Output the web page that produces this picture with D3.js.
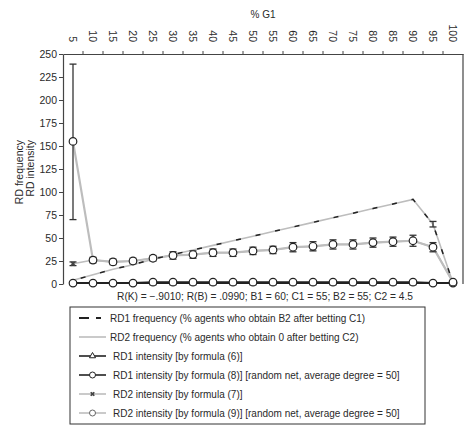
<!DOCTYPE html>
<html><head><meta charset="utf-8">
<script src="https://cdn.jsdelivr.net/npm/d3@7"></script>
<style>
body{margin:0;background:#fff;}
text{font-family:"Liberation Sans",Arial,sans-serif;fill:#2a2a2a;}
</style></head>
<body><svg id="c" width="467" height="429"></svg>
<script>
// ---- data ----
const g1 = [5,10,15,20,25,30,35,40,45,50,55,60,65,70,75,80,85,90,95,100];
const xTickLabels = ["5","10","15","20","25","30","35","40","45","50","55","60","65","70","75","80","85","90","95","100"];
const yTicks = [0,25,50,75,100,125,150,175,200,225,250];
const rd1Freq = [4,10,16,21,27,32,37,42,47,52,57,62,67,72,77,82,87,92,65,1];
const rd2Freq = [4,10,16,21,27,32,37,42,47,52,57,62,67,72,77,82,87,92,65,1];
const rd2FreqLo = [4,10,16,21,27,32,37,42,47,52,57,62,67,72,77,82,87,92,62,1];
const rd2FreqHi = [4,10,16,21,27,32,37,42,47,52,57,62,67,72,77,82,87,92,68,1];
const rd1Int6 = [1,1,1,1,1,1,1,1,1,1,1,1,1,1,1,1,1,1,1,1];
const rd1Int8 = [1,1,1,1,2,2,2,2,2,2,2,2,2,2,2,2,2,2,1,1];
const rd2Int7 = [22,26,24,25,28,31,32,34,34,36,37,40,41,43,43,45,46,47,40,2];
const rd2Int7Lo = [20,26,24,25,28,31,32,34,34,36,37,40,41,43,43,45,46,47,40,2];
const rd2Int7Hi = [24,26,24,25,28,31,32,34,34,36,37,40,41,43,43,45,46,47,40,2];
const rd2Int9 = [155,26,24,25,28,31,32,34,34,36,37,40,41,43,43,45,46,47,40,2];
const rd2Int9Lo = [70,23,21,22,25,27,28,30,30,32,33,35,36,38,38,40,41,41,35,1];
const rd2Int9Hi = [239,29,27,28,31,35,36,38,38,40,41,45,46,48,48,50,51,53,45,3];
const legendLabels = [
  "RD1 frequency (% agents who obtain B2 after betting C1)",
  "RD2 frequency (% agents who obtain 0 after betting C2)",
  "RD1 intensity [by formula (6)]",
  "RD1 intensity [by formula (8)] [random net, average degree = 50]",
  "RD2 intensity [by formula (7)]",
  "RD2 intensity [by formula (9)] [random net, average degree = 50]"
];
const xTitle = "% G1";
const yTitle = ["RD frequency","RD intensity"];
const subtitle = "R(K) = \u2212.9010; R(B) = .0990; B1 = 60; C1 = 55; B2 = 55; C2 = 4.5";

// ---- chart ----
const svg = d3.select("#c");
const L=63, R=463, T=54, B=284;
const GRAY="#bdbdbd", DARK="#222";
const xb = d3.scaleBand().domain(g1).range([L,R]).padding(0);
const x = d => xb(d) + xb.bandwidth()/2;
const y = d3.scaleLinear().domain([0,250]).range([B,T]);

// top axis
const ax = svg.append("g").attr("transform",`translate(0,${T})`)
  .call(d3.axisTop(xb).tickSize(0).tickSizeOuter(0).tickFormat((d,i)=>xTickLabels[i]));
ax.select(".domain").attr("stroke","#444").attr("stroke-width",1.2);
ax.selectAll(".tick text").attr("font-size",10.5).attr("text-anchor","end")
  .attr("transform","translate(0,-12) rotate(90)").attr("x",0).attr("y",0).attr("dy","0.35em");
svg.append("g").selectAll("line").data(g1.slice(1)).join("line")
  .attr("x1",d=>xb(d)).attr("x2",d=>xb(d)).attr("y1",T).attr("y2",T-3)
  .attr("stroke","#444");
// right border
svg.append("line").attr("x1",R).attr("x2",R).attr("y1",T).attr("y2",B)
  .attr("stroke","#444").attr("stroke-width",1.2);
// left axis
const ay = svg.append("g").attr("transform",`translate(${L},0)`)
  .call(d3.axisLeft(y).tickValues(yTicks).tickSize(4).tickSizeOuter(0));
ay.select(".domain").attr("stroke","#444").attr("stroke-width",1.2);
ay.selectAll(".tick line").attr("stroke","#444");
ay.selectAll(".tick text").attr("font-size",10.5).attr("x",-6);

svg.append("text").attr("x",263).attr("y",18).attr("text-anchor","middle")
  .attr("font-size",10).text(xTitle);
yTitle.forEach((t,i)=>svg.append("text")
  .attr("transform",`translate(${23+i*11},140) rotate(-90)`)
  .attr("text-anchor","end").attr("font-size",10.5).text(t));
svg.append("text").attr("x",265).attr("y",300).attr("text-anchor","middle")
  .attr("font-size",10.2).text(subtitle);

const line = arr => d3.line().x((d,i)=>x(g1[i])).y(d=>y(d))(arr);
const plot = svg.append("g");
// gray lines
plot.append("path").attr("d",line(rd2Freq)).attr("fill","none").attr("stroke",GRAY).attr("stroke-width",1.6);
plot.append("path").attr("d",line(rd2Int7)).attr("fill","none").attr("stroke",GRAY).attr("stroke-width",1.6);
plot.append("path").attr("d",line(rd2Int9)).attr("fill","none").attr("stroke",GRAY).attr("stroke-width",2.2);
// black dashed
plot.append("path").attr("d",line(rd1Freq)).attr("fill","none").attr("stroke",DARK)
  .attr("stroke-width",1.5).attr("stroke-dasharray","5,15").attr("stroke-dashoffset",-8);
// bottom black lines
plot.append("path").attr("d",line(rd1Int6)).attr("fill","none").attr("stroke",DARK).attr("stroke-width",1.6);
plot.append("path").attr("d",line(rd1Int8)).attr("fill","none").attr("stroke",DARK).attr("stroke-width",2);

// error bars
function ebars(lo,hi,col){
  const idx = g1.map((d,i)=>i).filter(i=>hi[i]!==lo[i]);
  const g = plot.append("g").attr("stroke",col).attr("stroke-width",1.3);
  g.selectAll(".v").data(idx).join("line").attr("x1",i=>x(g1[i])).attr("x2",i=>x(g1[i]))
    .attr("y1",i=>y(lo[i])).attr("y2",i=>y(hi[i]));
  g.selectAll(".a").data(idx).join("line").attr("x1",i=>x(g1[i])-3.5).attr("x2",i=>x(g1[i])+3.5)
    .attr("y1",i=>y(lo[i])).attr("y2",i=>y(lo[i]));
  g.selectAll(".b").data(idx).join("line").attr("x1",i=>x(g1[i])-3.5).attr("x2",i=>x(g1[i])+3.5)
    .attr("y1",i=>y(hi[i])).attr("y2",i=>y(hi[i]));
}
ebars(rd2Int9Lo,rd2Int9Hi,"#333");
ebars(rd2Int7Lo,rd2Int7Hi,"#333");
ebars(rd2FreqLo,rd2FreqHi,"#333");

// markers
const sym = d3.symbol();
plot.append("g").selectAll("path").data(rd1Int6).join("path")
  .attr("transform",(d,i)=>`translate(${x(g1[i])},${y(d)})`)
  .attr("d",sym.type(d3.symbolTriangle).size(20)()).attr("fill","#fff").attr("stroke",DARK);
plot.append("g").selectAll("path").data(rd2Int7).join("path")
  .attr("transform",(d,i)=>`translate(${x(g1[i])},${y(d)}) rotate(45)`)
  .attr("d",d3.symbol().type(d3.symbolCross).size(14)()).attr("fill","#444");
plot.append("g").selectAll("circle").data(rd1Int8).join("circle")
  .attr("cx",(d,i)=>x(g1[i])).attr("cy",d=>y(d)).attr("r",3.8)
  .attr("fill","#fff").attr("stroke",DARK).attr("stroke-width",1.2);
plot.append("g").selectAll("circle").data(rd2Int9).join("circle")
  .attr("cx",(d,i)=>x(g1[i])).attr("cy",d=>y(d)).attr("r",3.8)
  .attr("fill","#fff").attr("stroke",DARK).attr("stroke-width",1.2);

// legend
const lg = svg.append("g");
lg.append("rect").attr("x",70).attr("y",307).attr("width",355).attr("height",117)
  .attr("fill","#fff").attr("stroke","#333").attr("stroke-width",1);
const ly = i => 318 + i*19;
legendLabels.forEach((t,i)=>{
  const yy = ly(i), x0=79, x1=106;
  const gray = (i===1||i>=4);
  const l = lg.append("line").attr("x1",x0).attr("x2",x1).attr("y1",yy).attr("y2",yy)
    .attr("stroke",gray?GRAY:DARK).attr("stroke-width",i===0?2.2:1.6);
  if(i===0) l.attr("stroke-dasharray","10,7,5,20");
  const cx=(x0+x1)/2;
  if(i===2) lg.append("path").attr("transform",`translate(${cx},${yy})`)
    .attr("d",d3.symbol().type(d3.symbolTriangle).size(16)()).attr("fill","#fff").attr("stroke",DARK);
  if(i===4) lg.append("path").attr("transform",`translate(${cx},${yy}) rotate(45)`)
    .attr("d",d3.symbol().type(d3.symbolCross).size(14)()).attr("fill","#444");
  if(i===3||i===5) lg.append("circle").attr("cx",cx).attr("cy",yy).attr("r",3)
    .attr("fill","#fff").attr("stroke",i===3?DARK:"#666");
  lg.append("text").attr("x",i<2?110:113).attr("y",yy).attr("dy","0.35em")
    .attr("font-size",10).text(t);
});
</script></body></html>
